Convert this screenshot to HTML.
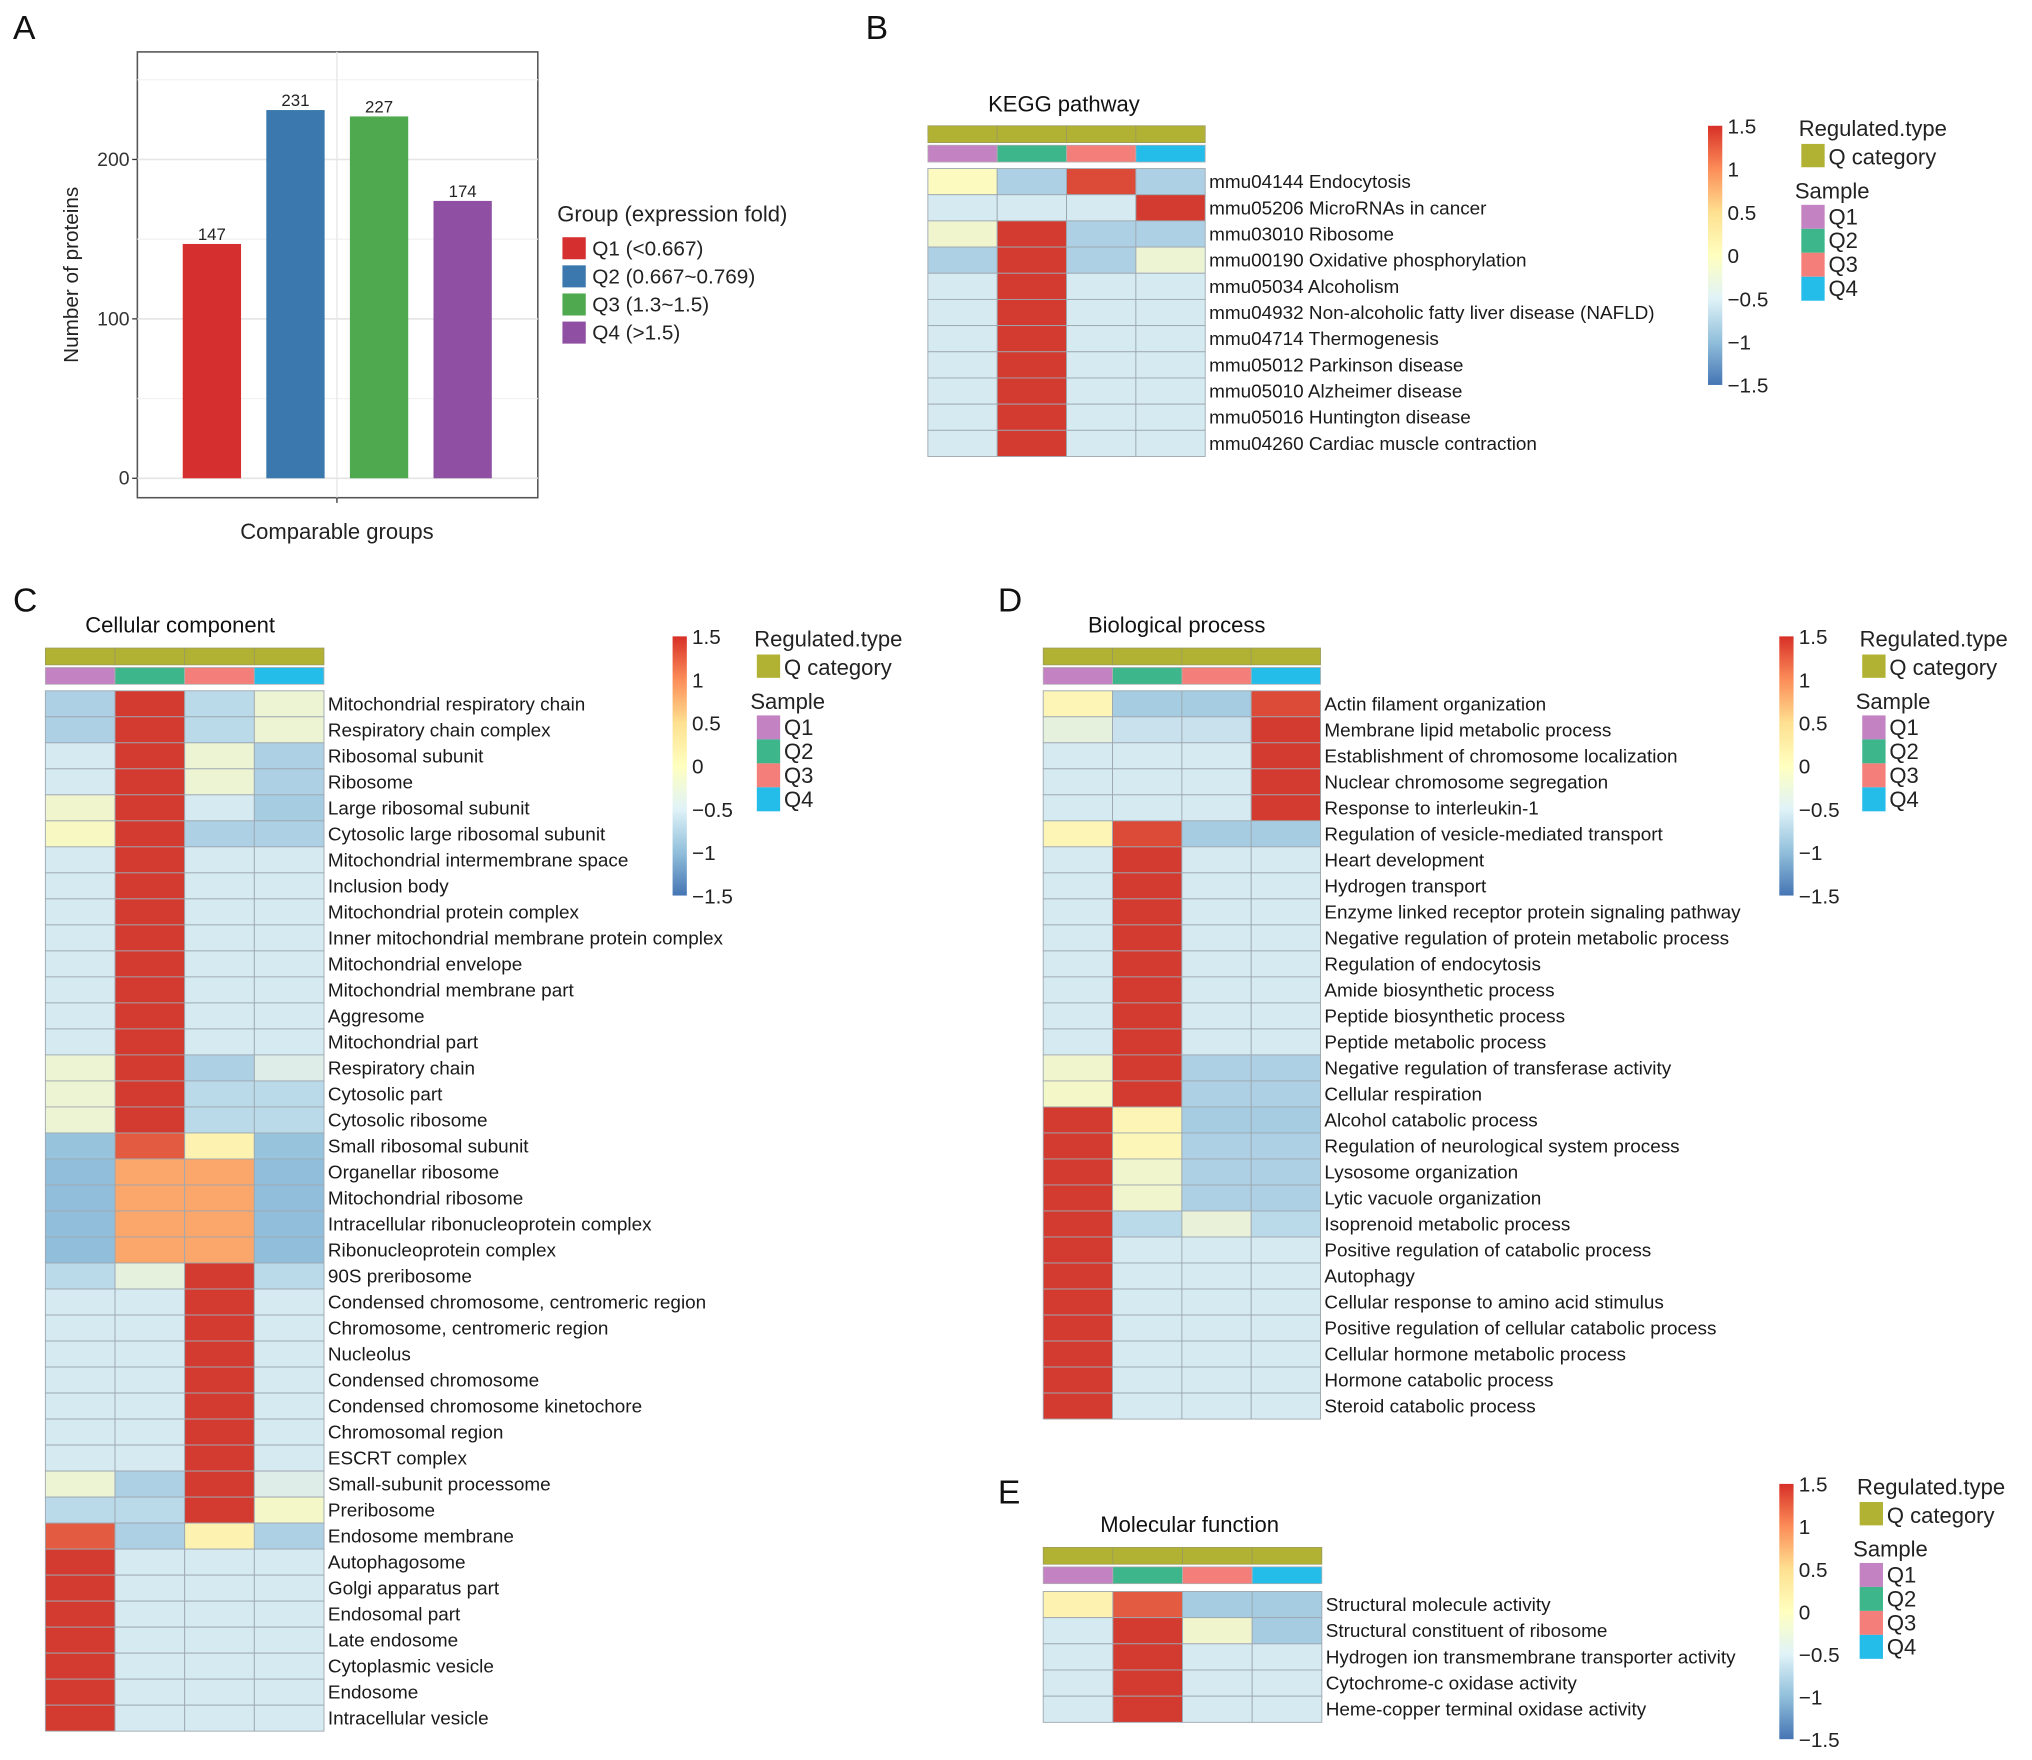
<!DOCTYPE html>
<html><head><meta charset="utf-8">
<style>
html,body{margin:0;padding:0;background:#fff;}
svg{display:block;font-family:"Liberation Sans",Arial,sans-serif;}
</style></head>
<body>
<svg id="fig" width="2032" height="1760" viewBox="0 0 1568 1358" xmlns="http://www.w3.org/2000/svg">
<defs>
<linearGradient id="cbgrad" x1="0" y1="1" x2="0" y2="0">
<stop offset="0" stop-color="#4575b4"/><stop offset="0.1667" stop-color="#91bfdb"/><stop offset="0.3333" stop-color="#e0f3f8"/><stop offset="0.5" stop-color="#ffffbf"/><stop offset="0.6667" stop-color="#fee090"/><stop offset="0.8333" stop-color="#fc8d59"/><stop offset="1" stop-color="#d73027"/>
</linearGradient>
</defs>
</svg>
<script>
// ---------- Panel A data ----------
const barCategories = ["Q1","Q2","Q3","Q4"];
const barValues = [147,231,227,174];
const barColors = ["#d62f2f","#3a78ad","#4fa94f","#8f4fa3"];
const barLegendLabels = ["Q1 (<0.667)","Q2 (0.667~0.769)","Q3 (1.3~1.5)","Q4 (>1.5)"];
const yTicks = [0,100,200];

// ---------- Panel B data ----------
const keggLabels = ["mmu04144 Endocytosis","mmu05206 MicroRNAs in cancer","mmu03010 Ribosome","mmu00190 Oxidative phosphorylation","mmu05034 Alcoholism","mmu04932 Non-alcoholic fatty liver disease (NAFLD)","mmu04714 Thermogenesis","mmu05012 Parkinson disease","mmu05010 Alzheimer disease","mmu05016 Huntington disease","mmu04260 Cardiac muscle contraction"];
const keggValues = [[0,-0.8,1.4,-0.8],[-0.5,-0.5,-0.5,1.5],[-0.15,1.5,-0.8,-0.8],[-0.8,1.5,-0.8,-0.2],[-0.5,1.5,-0.5,-0.5],[-0.5,1.5,-0.5,-0.5],[-0.5,1.5,-0.5,-0.5],[-0.5,1.5,-0.5,-0.5],[-0.5,1.5,-0.5,-0.5],[-0.5,1.5,-0.5,-0.5],[-0.5,1.5,-0.5,-0.5]];

// ---------- Panel C data ----------
const ccLabels = ["Mitochondrial respiratory chain","Respiratory chain complex","Ribosomal subunit","Ribosome","Large ribosomal subunit","Cytosolic large ribosomal subunit","Mitochondrial intermembrane space","Inclusion body","Mitochondrial protein complex","Inner mitochondrial membrane protein complex","Mitochondrial envelope","Mitochondrial membrane part","Aggresome","Mitochondrial part","Respiratory chain","Cytosolic part","Cytosolic ribosome","Small ribosomal subunit","Organellar ribosome","Mitochondrial ribosome","Intracellular ribonucleoprotein complex","Ribonucleoprotein complex","90S preribosome","Condensed chromosome, centromeric region","Chromosome, centromeric region","Nucleolus","Condensed chromosome","Condensed chromosome kinetochore","Chromosomal region","ESCRT complex","Small-subunit processome","Preribosome","Endosome membrane","Autophagosome","Golgi apparatus part","Endosomal part","Late endosome","Cytoplasmic vesicle","Endosome","Intracellular vesicle"];
const ccValues = [[-0.8,1.5,-0.7,-0.2],[-0.8,1.5,-0.7,-0.2],[-0.5,1.5,-0.2,-0.8],[-0.5,1.5,-0.2,-0.8],[-0.15,1.5,-0.5,-0.85],[-0.05,1.5,-0.8,-0.8],[-0.5,1.5,-0.5,-0.5],[-0.5,1.5,-0.5,-0.5],[-0.5,1.5,-0.5,-0.5],[-0.5,1.5,-0.5,-0.5],[-0.5,1.5,-0.5,-0.5],[-0.5,1.5,-0.5,-0.5],[-0.5,1.5,-0.5,-0.5],[-0.5,1.5,-0.5,-0.5],[-0.2,1.5,-0.8,-0.4],[-0.2,1.5,-0.7,-0.7],[-0.2,1.5,-0.7,-0.7],[-0.95,1.3,0.15,-0.95],[-1.0,0.85,0.85,-1.0],[-1.0,0.85,0.85,-1.0],[-1.0,0.85,0.85,-1.0],[-1.0,0.85,0.85,-1.0],[-0.7,-0.3,1.5,-0.7],[-0.5,-0.5,1.5,-0.5],[-0.5,-0.5,1.5,-0.5],[-0.5,-0.5,1.5,-0.5],[-0.5,-0.5,1.5,-0.5],[-0.5,-0.5,1.5,-0.5],[-0.5,-0.5,1.5,-0.5],[-0.5,-0.5,1.5,-0.5],[-0.2,-0.8,1.5,-0.4],[-0.7,-0.7,1.5,-0.1],[1.3,-0.8,0.15,-0.8],[1.5,-0.5,-0.5,-0.5],[1.5,-0.5,-0.5,-0.5],[1.5,-0.5,-0.5,-0.5],[1.5,-0.5,-0.5,-0.5],[1.5,-0.5,-0.5,-0.5],[1.5,-0.5,-0.5,-0.5],[1.5,-0.5,-0.5,-0.5]];

// ---------- Panel D data ----------
const bpLabels = ["Actin filament organization","Membrane lipid metabolic process","Establishment of chromosome localization","Nuclear chromosome segregation","Response to interleukin-1","Regulation of vesicle-mediated transport","Heart development","Hydrogen transport","Enzyme linked receptor protein signaling pathway","Negative regulation of protein metabolic process","Regulation of endocytosis","Amide biosynthetic process","Peptide biosynthetic process","Peptide metabolic process","Negative regulation of transferase activity","Cellular respiration","Alcohol catabolic process","Regulation of neurological system process","Lysosome organization","Lytic vacuole organization","Isoprenoid metabolic process","Positive regulation of catabolic process","Autophagy","Cellular response to amino acid stimulus","Positive regulation of cellular catabolic process","Cellular hormone metabolic process","Hormone catabolic process","Steroid catabolic process"];
const bpValues = [[0.1,-0.85,-0.85,1.4],[-0.3,-0.6,-0.6,1.5],[-0.5,-0.5,-0.5,1.5],[-0.5,-0.5,-0.5,1.5],[-0.5,-0.5,-0.5,1.5],[0.1,1.4,-0.85,-0.85],[-0.5,1.5,-0.5,-0.5],[-0.5,1.5,-0.5,-0.5],[-0.5,1.5,-0.5,-0.5],[-0.5,1.5,-0.5,-0.5],[-0.5,1.5,-0.5,-0.5],[-0.5,1.5,-0.5,-0.5],[-0.5,1.5,-0.5,-0.5],[-0.5,1.5,-0.5,-0.5],[-0.15,1.5,-0.8,-0.8],[-0.1,1.5,-0.8,-0.8],[1.5,0.1,-0.85,-0.85],[1.5,0.05,-0.8,-0.8],[1.5,-0.15,-0.8,-0.8],[1.5,-0.15,-0.8,-0.8],[1.5,-0.7,-0.25,-0.7],[1.5,-0.5,-0.5,-0.5],[1.5,-0.5,-0.5,-0.5],[1.5,-0.5,-0.5,-0.5],[1.5,-0.5,-0.5,-0.5],[1.5,-0.5,-0.5,-0.5],[1.5,-0.5,-0.5,-0.5],[1.5,-0.5,-0.5,-0.5]];

// ---------- Panel E data ----------
const mfLabels = ["Structural molecule activity","Structural constituent of ribosome","Hydrogen ion transmembrane transporter activity","Cytochrome-c oxidase activity","Heme-copper terminal oxidase activity"];
const mfValues = [[0.15,1.3,-0.85,-0.85],[-0.5,1.5,-0.15,-0.85],[-0.5,1.5,-0.5,-0.5],[-0.5,1.5,-0.5,-0.5],[-0.5,1.5,-0.5,-0.5]];

const colorbarTicks = [1.5,1,0.5,0,-0.5,-1,-1.5];
const sampleNames = ["Q1","Q2","Q3","Q4"];
const sampleColors = ["#c383c3","#3cb68a","#f47f7a","#24bdea"];
const olive = "#b1b233";

const NS = "http://www.w3.org/2000/svg";
const svg = document.getElementById('fig');
function el(tag, attrs, parent, text){
  const e = document.createElementNS(NS, tag);
  for (const k in attrs) e.setAttribute(k, attrs[k]);
  if (text !== undefined) e.textContent = text;
  (parent || svg).appendChild(e);
  return e;
}
function group(name){
  const g = document.createElementNS(NS,'g');
  
  
  svg.appendChild(g);
  return g;
}
const stops = [[-1.5,[69,117,180]],[-1,[145,191,219]],[-0.5,[214,234,242]],[0,[252,250,190]],[0.5,[254,224,144]],[1,[250,141,89]],[1.5,[211,58,48]]];
function colorOf(v){
  v = Math.max(-1.5, Math.min(1.5, v));
  for (let i=0;i<stops.length-1;i++){
    const a=stops[i], b=stops[i+1];
    if (v>=a[0] && v<=b[0]){
      const t=(v-a[0])/(b[0]-a[0]);
      const c=a[1].map((x,j)=>Math.round(x+(b[1][j]-x)*t));
      return `rgb(${c[0]},${c[1]},${c[2]})`;
    }
  }
  return '#fff';
}

// ---------- Panel letters ----------
[["A",10,30],["B",668,30],["C",10,472],["D",770,472],["E",770,1160]].forEach(p=>{
  const t = el('text',{x:p[1],y:p[2],'font-size':26,fill:'#111'},svg,p[0]);
  
  
});

// ---------- Panel A ----------
(function(){
  const g = group('bar-chart');
  const x0=106,x1=415,yT=40,yB=384;
  const yZero=369, pxPer=1.23;
  const yScale = v => yZero - v*pxPer;
  const xCenter = i => 163.5 + i*64.5;
  const bw = 45;
  el('rect',{x:x0,y:yT,width:x1-x0,height:yB-yT,fill:'#fff',stroke:'#555','stroke-width':1.2},g);
  [50,150,250].forEach(v=>el('line',{x1:x0,x2:x1,y1:yScale(v),y2:yScale(v),stroke:'#f2f2f2','stroke-width':1},g));
  yTicks.forEach(v=>{
    el('line',{x1:x0,x2:x1,y1:yScale(v),y2:yScale(v),stroke:'#e6e6e6','stroke-width':1.3},g);
    el('line',{x1:x0-4,x2:x0,y1:yScale(v),y2:yScale(v),stroke:'#333'},g);
    const t = el('text',{x:x0-6,y:yScale(v)+5,'text-anchor':'end','font-size':15,fill:'#333'},g,String(v));
    
    
  });
  el('line',{x1:260,x2:260,y1:yT,y2:yB,stroke:'#e6e6e6'},g);
  el('line',{x1:260,x2:260,y1:yB,y2:yB+4,stroke:'#333'},g);
  barValues.forEach((v,i)=>{
    const r = el('rect',{x:xCenter(i)-bw/2,y:yScale(v),width:bw,height:yZero-yScale(v),fill:barColors[i]},g);
    
    
    const t = el('text',{x:xCenter(i),y:yScale(v)-3,'text-anchor':'middle','font-size':13,fill:'#222'},g,String(v));
    
    
  });
  const yt = el('text',{x:0,y:0,transform:'translate(60,212) rotate(-90)','text-anchor':'middle','font-size':16,fill:'#222'},g,'Number of proteins');
  
  
  const xt = el('text',{x:260,y:416,'text-anchor':'middle','font-size':17,fill:'#222'},g,'Comparable groups');
  
  
  const lt = el('text',{x:430,y:171,'font-size':17,fill:'#222'},g,'Group (expression fold)');
  
  
  barLegendLabels.forEach((lab,i)=>{
    const y=183+i*21.7;
    const s = el('rect',{x:434,y:y,width:18,height:17,fill:barColors[i]},g);
    
    
    const t = el('text',{x:457,y:y+14,'font-size':16,fill:'#222'},g,lab);
    
    
  });
})();

// ---------- heatmap builder ----------
function heatmap(name, cfg){
  const g = group(name);
  const colW = (cfg.x1-cfg.x0)/4;
  const t = el('text',{x:cfg.titleX,y:cfg.titleY,'text-anchor':'middle','font-size':17,fill:'#111'},g,cfg.title);
  
  
  for (let j=0;j<4;j++){
    el('rect',{x:cfg.x0+j*colW,y:cfg.annTop,width:colW,height:13,fill:olive,stroke:'#9a9a60','stroke-width':0.6},g);
    const s = el('rect',{x:cfg.x0+j*colW,y:cfg.annTop+15,width:colW,height:13,fill:sampleColors[j],stroke:'#b0b0b0','stroke-width':0.6},g);
    
    
  }
  cfg.values.forEach((row,i)=>{
    const y = cfg.rowTop + i*cfg.rowH;
    row.forEach((v,j)=>{
      const c = el('rect',{x:cfg.x0+j*colW,y:y,width:colW,height:cfg.rowH,fill:colorOf(v),stroke:'#9ea8b0','stroke-width':0.7},g);
      
      
    });
    const l = el('text',{x:cfg.x1+3,y:y+cfg.rowH/2+5,'font-size':14.6,fill:'#1a1a1a'},g,cfg.labels[i]);
    
    
  });
  const cb = cfg.cb;
  const bar = el('rect',{x:cb.x,y:cb.top,width:11,height:cb.bot-cb.top,fill:'url(#cbgrad)'},g);
  
  
  colorbarTicks.forEach(v=>{
    const y = cb.bot - (v+1.5)/3*(cb.bot-cb.top);
    const tl = el('text',{x:cb.x+15,y:y+6,'font-size':16,fill:'#222'},g,(v<0?'\u2212'+Math.abs(v):String(v)));
    
    
  });
  const lx = cb.legX, ly = cb.top;
  const r1 = el('text',{x:lx,y:ly+8,'font-size':17,fill:'#222'},g,'Regulated.type');
  
  
  el('rect',{x:lx+2,y:ly+14,width:18,height:18,fill:olive},g);
  const qc = el('text',{x:lx+23,y:ly+30,'font-size':17,fill:'#222'},g,'Q category');
  
  
  const sm = el('text',{x:lx-3,y:ly+56,'font-size':17,fill:'#222'},g,'Sample');
  
  
  sampleNames.forEach((s,j)=>{
    const y = ly+61+j*18.5;
    el('rect',{x:lx+2,y:y,width:18,height:18.5,fill:sampleColors[j]},g);
    const e = el('text',{x:lx+23,y:y+15,'font-size':17,fill:'#222'},g,s);
    
    
  });
}

heatmap('kegg-heatmap',{title:'KEGG pathway',titleX:821,titleY:86,x0:716,x1:930,annTop:97,rowTop:130,rowH:20.2,labels:keggLabels,values:keggValues,cb:{x:1318,top:97,bot:297,legX:1388}});
heatmap('cellular-component-heatmap',{title:'Cellular component',titleX:139,titleY:488,x0:35,x1:250,annTop:500,rowTop:533,rowH:20.07,labels:ccLabels,values:ccValues,cb:{x:519,top:491,bot:691,legX:582}});
heatmap('biological-process-heatmap',{title:'Biological process',titleX:908,titleY:488,x0:805,x1:1019,annTop:500,rowTop:533,rowH:20.07,labels:bpLabels,values:bpValues,cb:{x:1373,top:491,bot:691,legX:1435}});
heatmap('molecular-function-heatmap',{title:'Molecular function',titleX:918,titleY:1182,x0:805,x1:1020,annTop:1194,rowTop:1228,rowH:20.2,labels:mfLabels,values:mfValues,cb:{x:1373,top:1145,bot:1342,legX:1433}});
</script>
</body></html>
